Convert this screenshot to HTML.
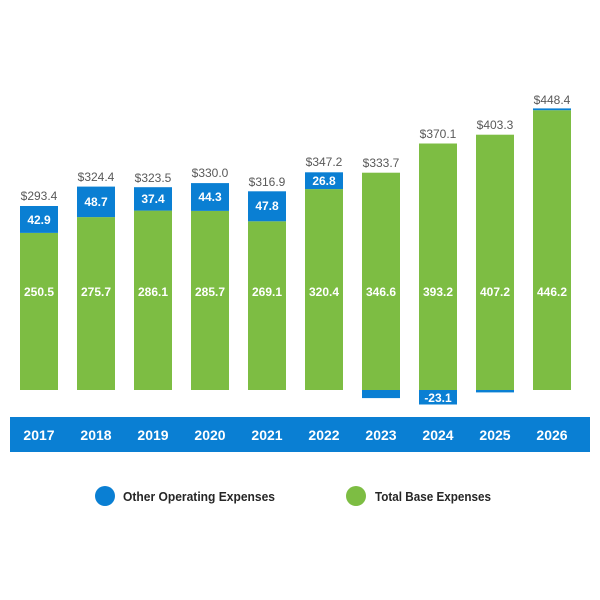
<!DOCTYPE html>
<html><head><style>body{margin:0;background:#fff}svg{display:block}text{font-family:"Liberation Sans",sans-serif}</style></head><body>
<svg width="600" height="600" xmlns="http://www.w3.org/2000/svg">
<g fill="#7dbd43">
<rect x="20" y="232.9" width="38" height="157.1"/>
<rect x="77" y="217.1" width="38" height="172.9"/>
<rect x="134" y="210.6" width="38" height="179.4"/>
<rect x="191" y="210.9" width="38" height="179.1"/>
<rect x="248" y="221.3" width="38" height="168.7"/>
<rect x="305" y="189.1" width="38" height="200.9"/>
<rect x="362" y="172.7" width="38" height="217.3"/>
<rect x="419" y="143.5" width="38" height="246.5"/>
<rect x="476" y="134.7" width="38" height="255.3"/>
<rect x="533" y="110.2" width="38" height="279.8"/>
</g>
<g fill="#0a7fd3">
<rect x="20" y="206" width="38" height="26.9"/>
<rect x="77" y="186.6" width="38" height="30.5"/>
<rect x="134" y="187.2" width="38" height="23.4"/>
<rect x="191" y="183.1" width="38" height="27.8"/>
<rect x="248" y="191.3" width="38" height="30"/>
<rect x="305" y="172.3" width="38" height="16.8"/>
<rect x="362" y="390" width="38" height="8.1"/>
<rect x="419" y="390" width="38" height="14.5"/>
<rect x="476" y="390" width="38" height="2.4"/>
<rect x="533" y="108.4" width="38" height="1.8"/>
<rect x="10" y="417" width="580" height="35"/>
</g>
<g fill="#595959" font-size="12" text-anchor="middle">
<text x="39" y="200">$293.4</text>
<text x="96" y="181">$324.4</text>
<text x="153" y="182">$323.5</text>
<text x="210" y="177">$330.0</text>
<text x="267" y="186">$316.9</text>
<text x="324" y="166">$347.2</text>
<text x="381" y="167">$333.7</text>
<text x="438" y="138">$370.1</text>
<text x="495" y="129">$403.3</text>
<text x="552" y="104">$448.4</text>
</g>
<g fill="#fff" font-size="12" font-weight="bold" text-anchor="middle">
<text x="39" y="224">42.9</text>
<text x="96" y="206">48.7</text>
<text x="153" y="203">37.4</text>
<text x="210" y="201">44.3</text>
<text x="267" y="210">47.8</text>
<text x="324" y="185">26.8</text>
<text x="438" y="402">-23.1</text>
<text x="39" y="296">250.5</text>
<text x="96" y="296">275.7</text>
<text x="153" y="296">286.1</text>
<text x="210" y="296">285.7</text>
<text x="267" y="296">269.1</text>
<text x="324" y="296">320.4</text>
<text x="381" y="296">346.6</text>
<text x="438" y="296">393.2</text>
<text x="495" y="296">407.2</text>
<text x="552" y="296">446.2</text>
</g>
<g fill="#fff" font-size="14" font-weight="bold" text-anchor="middle">
<text x="39" y="440">2017</text>
<text x="96" y="440">2018</text>
<text x="153" y="440">2019</text>
<text x="210" y="440">2020</text>
<text x="267" y="440">2021</text>
<text x="324" y="440">2022</text>
<text x="381" y="440">2023</text>
<text x="438" y="440">2024</text>
<text x="495" y="440">2025</text>
<text x="552" y="440">2026</text>
</g>
<circle cx="105" cy="496" r="10" fill="#0a7fd3"/>
<circle cx="356" cy="496" r="10" fill="#7dbd43"/>
<g fill="#262626" font-size="13" font-weight="bold">
<text x="123" y="501" textLength="152" lengthAdjust="spacingAndGlyphs">Other Operating Expenses</text>
<text x="375" y="501" textLength="116" lengthAdjust="spacingAndGlyphs">Total Base Expenses</text>
</g>
</svg>
</body></html>
